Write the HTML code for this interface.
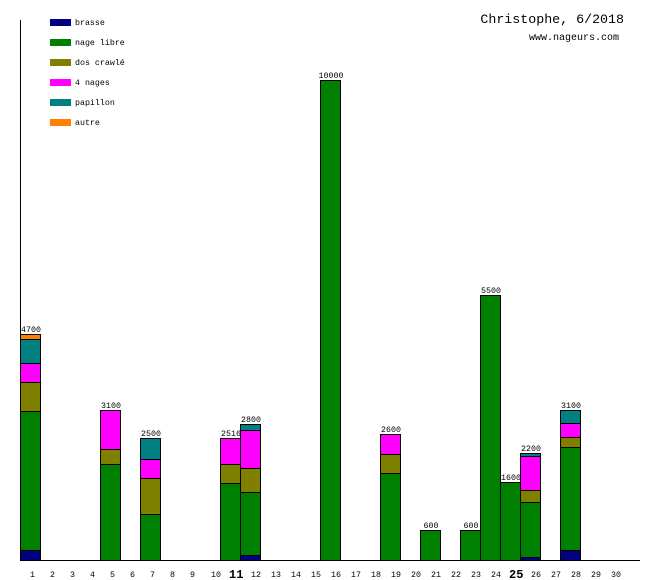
<!DOCTYPE html>
<html><head><meta charset="utf-8"><style>
html,body{margin:0;padding:0;background:#fff;}
svg{display:block;}
text{font-family:"Liberation Mono","DejaVu Sans Mono",monospace;fill:#000;}
</style></head><body>
<svg width="660" height="580" xmlns="http://www.w3.org/2000/svg">
<rect width="660" height="580" fill="#fff"/>
<line x1="20.5" y1="20" x2="20.5" y2="561" stroke="#000"/>
<line x1="20" y1="560.5" x2="640" y2="560.5" stroke="#000"/>
<g font-size="8.3">
<rect x="50" y="19" width="21" height="7" fill="#000080"/><text x="75" y="25">brasse</text>
<rect x="50" y="39" width="21" height="7" fill="#008000"/><text x="75" y="45">nage libre</text>
<rect x="50" y="59" width="21" height="7" fill="#808000"/><text x="75" y="65">dos crawlé</text>
<rect x="50" y="79" width="21" height="7" fill="#ff00ff"/><text x="75" y="85">4 nages</text>
<rect x="50" y="99" width="21" height="7" fill="#008080"/><text x="75" y="105">papillon</text>
<rect x="50" y="119" width="21" height="7" fill="#ff8000"/><text x="75" y="125">autre</text>
</g>
<text x="624" y="23" font-size="13.3" text-anchor="end">Christophe, 6/2018</text>
<text x="619" y="40" font-size="10" text-anchor="end">www.nageurs.com</text>
<g stroke="#000" stroke-width="1">
<!-- day1 -->
<rect x="20.5" y="334.5" width="20" height="5" fill="#ff8000"/>
<rect x="20.5" y="339.5" width="20" height="24" fill="#008080"/>
<rect x="20.5" y="363.5" width="20" height="19" fill="#ff00ff"/>
<rect x="20.5" y="382.5" width="20" height="29" fill="#808000"/>
<rect x="20.5" y="411.5" width="20" height="139" fill="#008000"/>
<rect x="20.5" y="550.5" width="20" height="10" fill="#000080"/>
<!-- day5 -->
<rect x="100.5" y="410.5" width="20" height="39" fill="#ff00ff"/>
<rect x="100.5" y="449.5" width="20" height="15" fill="#808000"/>
<rect x="100.5" y="464.5" width="20" height="96" fill="#008000"/>
<!-- day7 -->
<rect x="140.5" y="438.5" width="20" height="21" fill="#008080"/>
<rect x="140.5" y="459.5" width="20" height="19" fill="#ff00ff"/>
<rect x="140.5" y="478.5" width="20" height="36" fill="#808000"/>
<rect x="140.5" y="514.5" width="20" height="46" fill="#008000"/>
<!-- day11 -->
<rect x="220.5" y="438.5" width="20" height="26" fill="#ff00ff"/>
<rect x="220.5" y="464.5" width="20" height="19" fill="#808000"/>
<rect x="220.5" y="483.5" width="20" height="77" fill="#008000"/>
<!-- day12 -->
<rect x="240.5" y="424.5" width="20" height="6" fill="#008080"/>
<rect x="240.5" y="430.5" width="20" height="38" fill="#ff00ff"/>
<rect x="240.5" y="468.5" width="20" height="24" fill="#808000"/>
<rect x="240.5" y="492.5" width="20" height="63" fill="#008000"/>
<rect x="240.5" y="555.5" width="20" height="5" fill="#000080"/>
<!-- day16 -->
<rect x="320.5" y="80.5" width="20" height="480" fill="#008000"/>
<!-- day19 -->
<rect x="380.5" y="434.5" width="20" height="20" fill="#ff00ff"/>
<rect x="380.5" y="454.5" width="20" height="19" fill="#808000"/>
<rect x="380.5" y="473.5" width="20" height="87" fill="#008000"/>
<!-- day21,23,24,25 -->
<rect x="420.5" y="530.5" width="20" height="30" fill="#008000"/>
<rect x="460.5" y="530.5" width="20" height="30" fill="#008000"/>
<rect x="480.5" y="295.5" width="20" height="265" fill="#008000"/>
<rect x="500.5" y="482.5" width="20" height="78" fill="#008000"/>
<!-- day26 -->
<rect x="520.5" y="453.5" width="20" height="3" fill="#008080"/>
<rect x="520.5" y="456.5" width="20" height="34" fill="#ff00ff"/>
<rect x="520.5" y="490.5" width="20" height="12" fill="#808000"/>
<rect x="520.5" y="502.5" width="20" height="55" fill="#008000"/>
<rect x="520.5" y="557.5" width="20" height="3" fill="#000080"/>
<!-- day28 -->
<rect x="560.5" y="410.5" width="20" height="13" fill="#008080"/>
<rect x="560.5" y="423.5" width="20" height="14" fill="#ff00ff"/>
<rect x="560.5" y="437.5" width="20" height="10" fill="#808000"/>
<rect x="560.5" y="447.5" width="20" height="103" fill="#008000"/>
<rect x="560.5" y="550.5" width="20" height="10" fill="#000080"/>
</g>
<g font-size="8.3" text-anchor="middle">
<text x="31" y="332">4700</text>
<text x="111" y="408">3100</text>
<text x="151" y="436">2500</text>
<text x="231" y="436">2516</text>
<text x="251" y="422">2800</text>
<text x="331" y="78">10000</text>
<text x="391" y="432">2600</text>
<text x="431" y="528">600</text>
<text x="471" y="528">600</text>
<text x="491" y="293">5500</text>
<text x="511" y="480">1600</text>
<text x="531" y="451">2200</text>
<text x="571" y="408">3100</text>
</g>
<g font-size="8.3">
<text x="30" y="577">1</text><text x="50" y="577">2</text><text x="70" y="577">3</text><text x="90" y="577">4</text><text x="110" y="577">5</text><text x="130" y="577">6</text><text x="150" y="577">7</text><text x="170" y="577">8</text><text x="190" y="577">9</text><text x="211" y="577">10</text>
<text x="229" y="578" font-size="12" font-weight="bold">11</text>
<text x="251" y="577">12</text><text x="271" y="577">13</text><text x="291" y="577">14</text><text x="311" y="577">15</text><text x="331" y="577">16</text><text x="351" y="577">17</text><text x="371" y="577">18</text><text x="391" y="577">19</text><text x="411" y="577">20</text><text x="431" y="577">21</text><text x="451" y="577">22</text><text x="471" y="577">23</text><text x="491" y="577">24</text>
<text x="509" y="578" font-size="12" font-weight="bold">25</text>
<text x="531" y="577">26</text><text x="551" y="577">27</text><text x="571" y="577">28</text><text x="591" y="577">29</text><text x="611" y="577">30</text>
</g>
</svg>
</body></html>
